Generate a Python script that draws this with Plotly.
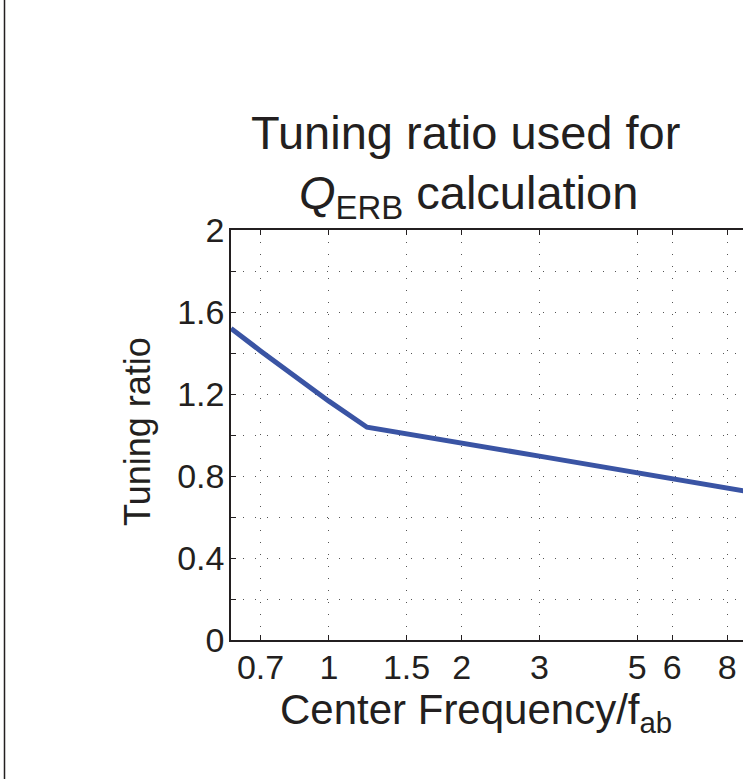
import numpy as np
import plotly.graph_objects as go

# Data
freq = [0.6, 0.7, 1.0, 1.22, 3.0, 5.0, 8.7]
tuning = [1.52, 1.41, 1.165, 1.038, 0.897, 0.817, 0.728]

x_ticks = [0.7, 1, 1.5, 2, 3, 5, 6, 8]
x_tick_text = ["0.7", "1", "1.5", "2", "3", "5", "6", "8"]
y_ticks = [0, 0.4, 0.8, 1.2, 1.6, 2.0]
y_tick_text = ["0", "0.4", "0.8", "1.2", "1.6", "2"]
y_minor_ticks = [0.2, 0.6, 1.0, 1.4, 1.8]

W, H = 743, 781
L, R, T, B = 231, 0, 230, 141
FONT = "Liberation Sans, Arial, Helvetica, sans-serif"
INK = "#231F20"
GRID = "#555555"

fig = go.Figure()
fig.add_trace(go.Scatter(x=freq, y=tuning, mode="lines",
                         line=dict(color="#3A54A4", width=5),
                         showlegend=False, hoverinfo="skip"))

pw = W - L - R
ph = H - T - B

def px2paperx(px):
    return (px - L) / pw

def py2papery(py):
    return (H - B - py) / ph

fig.update_layout(
    width=W, height=H,
    margin=dict(l=L, r=R, t=T, b=B, pad=0),
    paper_bgcolor="white", plot_bgcolor="white",
    font=dict(family=FONT, color=INK, size=34),
    xaxis=dict(
        type="log", range=[np.log10(0.6), np.log10(8.683)],
        tickvals=x_ticks, ticktext=x_tick_text,
        ticks="inside", ticklen=5, tickwidth=1, tickcolor=INK,
        showline=True, linecolor=INK, linewidth=2, mirror="allticks",
        showgrid=True, gridcolor=GRID, gridwidth=1, griddash="1px,11px",
        zeroline=False, tickfont=dict(size=34, family=FONT, color=INK),
        ticklabelstandoff=-4,
    ),
    yaxis=dict(
        range=[0, 2], tickvals=y_ticks, ticktext=y_tick_text,
        ticks="inside", ticklen=5, tickwidth=1, tickcolor=INK,
        showline=True, linecolor=INK, linewidth=1.5,
        showgrid=True, gridcolor=GRID, gridwidth=1, griddash="1px,11px",
        minor=dict(tickvals=y_minor_ticks, ticks="inside", ticklen=5,
                   tickwidth=1, tickcolor=INK, showgrid=True,
                   gridcolor=GRID, gridwidth=1, griddash="1px,11px"),
        zeroline=False, tickfont=dict(size=34, family=FONT, color=INK),
        ticklabelstandoff=-2,
    ),
)

# Title
fig.add_annotation(xref="paper", yref="paper", x=px2paperx(465), y=py2papery(150),
                   text="Tuning ratio used for", showarrow=False,
                   xanchor="center", yanchor="bottom", yshift=-11,
                   font=dict(size=47, family=FONT, color=INK))
fig.add_annotation(xref="paper", yref="paper", x=px2paperx(468), y=py2papery(208),
                   text="<i>Q</i><sub>ERB</sub> calculation", showarrow=False,
                   xanchor="center", yanchor="bottom", yshift=-20,
                   font=dict(size=47, family=FONT, color=INK))
# Axis titles
fig.add_annotation(xref="paper", yref="paper", x=px2paperx(476), y=py2papery(725),
                   text="Center Frequency/f<sub>ab</sub>", showarrow=False,
                   xanchor="center", yanchor="bottom", yshift=-16,
                   font=dict(size=42, family=FONT, color=INK))
fig.add_annotation(xref="paper", yref="paper", x=px2paperx(137), y=py2papery(432),
                   text="Tuning ratio", showarrow=False, textangle=-90,
                   xanchor="center", yanchor="middle",
                   font=dict(size=36, family=FONT, color=INK))

# Left frame line of the figure
fig.add_shape(type="line", xref="paper", yref="paper",
              x0=px2paperx(4.5), x1=px2paperx(4.5),
              y0=py2papery(0), y1=py2papery(779),
              line=dict(color=INK, width=1.5))

fig.write_html("out.html")
